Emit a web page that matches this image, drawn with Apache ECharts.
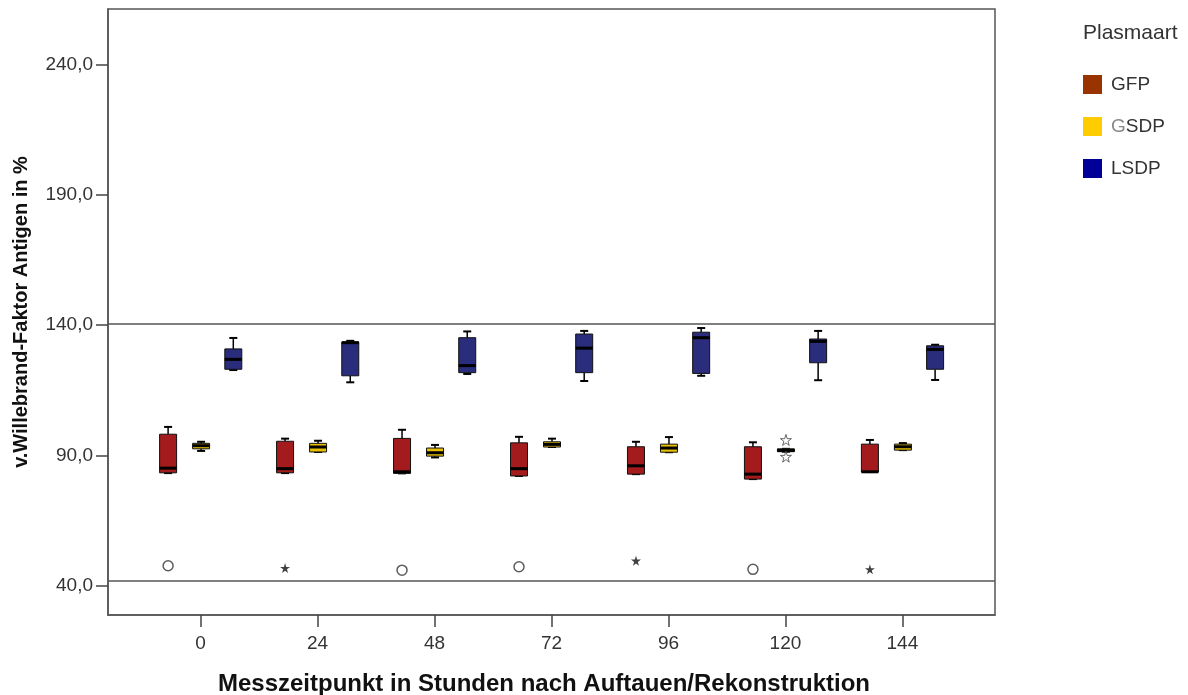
<!DOCTYPE html>
<html>
<head>
<meta charset="utf-8">
<script src="https://cdn.jsdelivr.net/npm/echarts@6/dist/echarts.min.js"></script>
<style>html,body{margin:0;padding:0;background:#fff}#c{width:1188px;height:695px}</style>
</head>
<body>
<div id="c"></div>
<script>
// Time points (hours)
var hours = [0, 24, 48, 72, 96, 120, 144];
var yTicks = [40, 90, 140, 190, 240];
var refLines = [140.5, 41.9];
// Box stats per time point: [min, q1, median, q3, max]
var gfp = [
  [83.3, 83.4, 85.2, 98.2, 101.0],
  [83.3, 83.4, 85.0, 95.5, 96.5],
  [83.2, 83.2, 83.8, 96.6, 99.9],
  [82.2, 82.2, 85.0, 94.9, 97.2],
  [82.9, 82.9, 86.1, 93.4, 95.3],
  [81.0, 81.0, 82.9, 93.4, 95.1],
  [83.7, 83.7, 83.8, 94.4, 96.0]
];
var gsdp = [
  [91.8, 92.6, 93.8, 94.7, 95.3],
  [91.4, 91.4, 93.3, 94.7, 95.7],
  [89.3, 89.8, 91.1, 92.9, 94.1],
  [93.3, 93.3, 94.3, 95.3, 96.5],
  [91.3, 91.3, 92.9, 94.4, 97.1],
  [91.5, 91.5, 92.0, 92.6, 92.6],
  [92.1, 92.1, 93.4, 94.4, 94.8]
];
var lsdp = [
  [122.8, 123.1, 126.9, 130.9, 135.1],
  [118.1, 120.6, 133.3, 133.5, 134.0],
  [121.3, 121.8, 124.5, 135.2, 137.6],
  [118.6, 121.8, 131.2, 136.6, 137.8],
  [120.6, 121.5, 135.2, 137.3, 138.9],
  [118.9, 125.6, 133.8, 134.7, 137.8],
  [119.0, 123.1, 130.7, 132.1, 132.5]
];
// Outliers [hour, value]
var gfpCircles = [[0, 47.8], [48, 46.1], [72, 47.4], [120, 46.4]];
var gfpStars = [[24, 46.9], [96, 49.7], [144, 46.4]];
var gsdpStars = [[120, 96.0], [120, 89.6]];

var groups = ['GFP', 'GSDP', 'LSDP'];
var legendColors = ['#993300', '#ffcc00', '#000099'];
var boxColors = ['#a31b1d', '#e8c000', '#2a2c7c'];
var pxOffsets = [-32.5, 0.5, 32.7];
var FONT = 'Liberation Sans, Arial, sans-serif';

function buildData(stats) {
  return hours.map(function (h, i) { return [h].concat(stats[i]); });
}

function makeBoxSeries(name, stats, idx) {
  return {
    name: name,
    type: 'custom',
    itemStyle: { color: legendColors[idx] },
    data: buildData(stats),
    encode: { x: 0, y: [1, 2, 3, 4, 5] },
    renderItem: function (params, api) {
      var h = api.value(0);
      var off = pxOffsets[idx];
      var pMin = api.coord([h, api.value(1)]);
      var pQ1 = api.coord([h, api.value(2)]);
      var pMed = api.coord([h, api.value(3)]);
      var pQ3 = api.coord([h, api.value(4)]);
      var pMax = api.coord([h, api.value(5)]);
      var cx = pMin[0] + off;
      var bw = 17, cw = 8;
      var lineStyle = { stroke: '#000', lineWidth: 1.5 };
      return {
        type: 'group',
        children: [
          { type: 'line', shape: { x1: cx, y1: pMax[1], x2: cx, y2: pQ3[1] }, style: lineStyle },
          { type: 'line', shape: { x1: cx, y1: pQ1[1], x2: cx, y2: pMin[1] }, style: lineStyle },
          { type: 'line', shape: { x1: cx - cw / 2, y1: pMax[1], x2: cx + cw / 2, y2: pMax[1] }, style: { stroke: '#000', lineWidth: 2 } },
          { type: 'line', shape: { x1: cx - cw / 2, y1: pMin[1], x2: cx + cw / 2, y2: pMin[1] }, style: { stroke: '#000', lineWidth: 2 } },
          { type: 'rect', shape: { x: cx - bw / 2, y: pQ3[1], width: bw, height: Math.max(pQ1[1] - pQ3[1], 1) },
            style: { fill: boxColors[idx], stroke: '#111', lineWidth: 1 } },
          { type: 'line', shape: { x1: cx - bw / 2, y1: pMed[1], x2: cx + bw / 2, y2: pMed[1] }, style: { stroke: '#000', lineWidth: 3 } }
        ]
      };
    },
    z: 3
  };
}

var starPath = 'path://M50,0 L61,35 L98,35 L68,57 L79,91 L50,70 L21,91 L32,57 L2,35 L39,35 Z';

var chart = echarts.init(document.getElementById('c'));
var option = {
  animation: false,
  backgroundColor: '#fff',
  grid: { left: 108, top: 9, right: 193, bottom: 80, show: true, borderColor: '#555', borderWidth: 1.5,
    backgroundColor: 'transparent', containLabel: false, outerBoundsMode: 'none' },
  title: {
    text: 'Plasmaart', left: 1078, top: 18,
    textStyle: { fontFamily: FONT, fontSize: 21, fontWeight: 'normal', color: '#333' }
  },
  legend: {
    orient: 'vertical', left: 1078, top: 70,
    itemWidth: 19, itemHeight: 19, itemGap: 23,
    icon: 'rect',
    formatter: function (n) { return n === 'GSDP' ? '{g|G}SDP' : n; },
    textStyle: { fontFamily: FONT, fontSize: 19, color: '#333', padding: [0, 0, 0, 4],
      rich: { g: { fontFamily: FONT, fontSize: 19, color: '#888' } } },
    data: groups.map(function (g, i) { return { name: g, itemStyle: { color: legendColors[i] } }; })
  },
  xAxis: {
    type: 'value', min: -19, max: 163,
    name: 'Messzeitpunkt in Stunden nach Auftauen/Rekonstruktion',
    nameLocation: 'middle', nameGap: 57,
    nameTextStyle: { fontFamily: FONT, fontSize: 24, fontWeight: 'bold', color: '#111', padding: [0, 15, 0, 0] },
    axisLine: { onZero: false, lineStyle: { color: '#555', width: 1.5 } },
    axisTick: { show: true, length: 12, lineStyle: { color: '#444', width: 1.5 }, customValues: hours },
    axisLabel: { customValues: hours, margin: 19, fontFamily: FONT, fontSize: 19, color: '#333' },
    splitLine: { show: false }
  },
  yAxis: {
    type: 'value', min: 28.9, max: 261.2,
    name: 'v.Willebrand-Faktor Antigen in %',
    nameLocation: 'middle', nameGap: 77, nameRotate: 90,
    nameTextStyle: { fontFamily: FONT, fontSize: 20, fontWeight: 'bold', color: '#111' },
    axisLine: { show: true, onZero: false, lineStyle: { color: '#555', width: 1.5 } },
    axisTick: { show: true, length: 12, lineStyle: { color: '#444', width: 1.5 }, customValues: yTicks },
    axisLabel: {
      customValues: yTicks, margin: 15,
      fontFamily: FONT, fontSize: 19, color: '#333',
      formatter: function (v) { return v.toFixed(1).replace('.', ','); }
    },
    splitLine: { show: false }
  },
  series: [
    makeBoxSeries('GFP', gfp, 0),
    makeBoxSeries('GSDP', gsdp, 1),
    makeBoxSeries('LSDP', lsdp, 2),
    {
      name: 'refs', type: 'line', data: [], silent: true,
      markLine: {
        symbol: 'none', silent: true, label: { show: false },
        lineStyle: { color: '#555', width: 1.5, type: 'solid' },
        data: refLines.map(function (v) { return { yAxis: v }; })
      }
    },
    {
      name: 'gfpCircles', type: 'scatter', data: gfpCircles,
      symbol: 'circle', symbolSize: 10, symbolOffset: [pxOffsets[0], 0],
      itemStyle: { color: 'transparent', borderColor: '#333', borderWidth: 1.5 }, z: 4
    },
    {
      name: 'gfpStars', type: 'scatter', data: gfpStars,
      symbol: starPath, symbolSize: 10, symbolOffset: [pxOffsets[0], 0],
      itemStyle: { color: '#111' }, z: 4
    },
    {
      name: 'gsdpStars', type: 'scatter', data: gsdpStars,
      symbol: starPath, symbolSize: 11, symbolOffset: [pxOffsets[1], 0],
      itemStyle: { color: '#fff', borderColor: '#444', borderWidth: 1 }, z: 4
    }
  ]
};
chart.setOption(option);
</script>
</body>
</html>
